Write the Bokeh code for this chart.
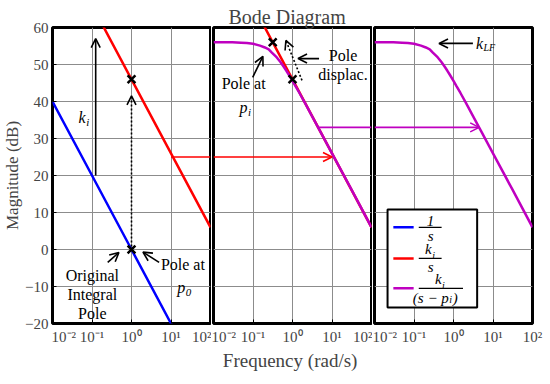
from bokeh.plotting import figure
from bokeh.layouts import row
from bokeh.models import (Range1d, FixedTicker, CustomJSTickFormatter, Arrow, OpenHead,
                          Label, BoxAnnotation)
from bokeh.embed import file_html
from bokeh.resources import INLINE

# ---------------- data ----------------
XTICKS = [0.01, 0.1, 1, 10, 100]
YTICKS = [-20, -10, 0, 10, 20, 30, 40, 50, 60]

W_LINE = [0.01, 0.1, 1, 10, 100]
MAG_INT = [40, 20, 0, -20, -40]          # 1/s
MAG_KI = [86, 66, 46, 26, 6]             # ki/s
W_PI = [0.01, 0.03, 0.05, 0.07, 0.1, 0.15, 0.2, 0.25, 0.3, 0.4, 0.5, 0.6, 0.7, 0.8,
        1, 1.2, 1.5, 2, 3, 5, 10, 30, 100]
MAG_PI = [56.0, 56.0, 55.9, 55.8, 55.6, 55.1, 54.6, 54.1, 53.2, 51.9, 50.6, 49.4, 48.3, 47.3,
          45.6, 44.1, 42.3, 39.9, 36.4, 32.0, 26.0, 16.5, 6.0]   # ki/(s-pi)

POLE1_W = [1, 1]
POLE1_MAG = [0, 46]
POLE2_W = [0.316, 1]
POLE2_MAG = [56, 46]

RED_SHIFT_W, RED_SHIFT_MAG = 10, 25
PUR_SHIFT_W, PUR_SHIFT_MAG = 4.47, 33

FONT = "Liberation Serif"
BLUE, RED, PURPLE = "#0000FF", "#FF0000", "#BF00C0"
H = 384
TOP = 27
BOTTOM = 61
DOTTED = "2 2"

XFMT = """
const sup = {"-2": "\u207B\u00B2", "-1": "\u207B\u00B9", "0": "\u2070", "1": "\u00B9", "2": "\u00B2"};
const e = Math.round(Math.log10(tick));
let s = "10" + sup[String(e)];
if (index == 0 && padl) { s = "\u2002\u2002\u2002" + s; }
return s;
"""
YFMT = """return tick < 0 ? "\u2212" + (-tick) : String(tick);"""


def make_fig(width, left, right, padl, xlabel=None, ylabel=None, title=None):
    p = figure(x_axis_type="log", x_range=Range1d(0.01, 100), y_range=Range1d(-20, 60),
               width=width, height=H, output_backend="svg", toolbar_location=None,
               min_border_left=left, min_border_right=right, min_border_top=TOP,
               min_border_bottom=BOTTOM, background_fill_color="white", border_fill_color="white")
    if title:
        p.title.text = title
        p.title.text_font = FONT
        p.title.text_font_size = "20px"
        p.title.text_font_style = "normal"
        p.title.align = "left"
        p.title.standoff = 0
        p.title.offset = 15
    p.outline_line_color = "black"
    p.outline_line_width = 3
    p.outline_line_alpha = 1
    p.xaxis.ticker = FixedTicker(ticks=XTICKS)
    p.xaxis.formatter = CustomJSTickFormatter(code=XFMT, args=dict(padl=padl))
    p.xaxis.major_label_text_font = FONT
    p.xaxis.major_label_text_font_size = "15px"
    p.xaxis.major_label_standoff = 5
    p.xaxis.axis_line_color = None
    p.xaxis.major_tick_in = 4
    p.xaxis.major_tick_out = 0
    p.xaxis.major_tick_line_color = "black"
    p.xaxis.minor_tick_line_color = None
    if xlabel:
        p.xaxis.axis_label = xlabel
        p.xaxis.axis_label_text_font = FONT
        p.xaxis.axis_label_text_font_size = "19px"
        p.xaxis.axis_label_text_font_style = "normal"
        p.xaxis.axis_label_standoff = 2
    p.xgrid.ticker = FixedTicker(ticks=XTICKS)
    p.ygrid.ticker = FixedTicker(ticks=YTICKS)
    p.grid.grid_line_color = "#8c8c8c"
    p.grid.grid_line_width = 1
    if ylabel:
        p.yaxis.ticker = FixedTicker(ticks=YTICKS)
        p.yaxis.formatter = CustomJSTickFormatter(code=YFMT)
        p.yaxis.major_label_text_font = FONT
        p.yaxis.major_label_text_font_size = "15px"
        p.yaxis.major_label_standoff = 4
        p.yaxis.axis_line_color = None
        p.yaxis.major_tick_in = 4
        p.yaxis.major_tick_out = 0
        p.yaxis.major_tick_line_color = "black"
        p.yaxis.minor_tick_line_color = None
        p.yaxis.axis_label = ylabel
        p.yaxis.axis_label_text_font = FONT
        p.yaxis.axis_label_text_font_size = "17px"
        p.yaxis.axis_label_text_font_style = "normal"
        p.yaxis.axis_label_standoff = 0
    else:
        p.yaxis.visible = False
    return p


def arrow(p, xs, ys, xe, ye, color="black", dash="solid", head=True, lw=1.6):
    p.add_layout(Arrow(x_start=xs, y_start=ys, x_end=xe, y_end=ye, line_color=color,
                       line_width=lw, line_dash=dash,
                       end=OpenHead(size=9, line_color=color, line_width=lw) if head else None))


def text(p, x, y, t, size=16, italic=False, align="center", baseline="middle", dx=0):
    p.add_layout(Label(x=x, y=y, text=t, text_font=FONT, text_font_size=f"{size}px",
                       text_font_style="italic" if italic else "normal",
                       text_align=align, text_baseline=baseline, x_offset=dx, text_color="black"))


def subtext(p, x, y, main, sub, size=16, sub_size=11, baseline="middle", drop=1.2):
    # main text ends at x, subscript starts at x
    text(p, x, y, main, size=size, italic=True, align="right", baseline=baseline)
    text(p, x, y - drop, sub, size=sub_size, italic=True, align="left", baseline=baseline, dx=0.5)


# ---------------- panel 1 ----------------
p1 = make_fig(211, 52, 1, True, ylabel="Magnitude (dB)")
p1.line(W_LINE, MAG_INT, line_color=BLUE, line_width=2.5)
p1.line(W_LINE, MAG_KI, line_color=RED, line_width=2.5)
p1.line([RED_SHIFT_W, 100], [RED_SHIFT_MAG, RED_SHIFT_MAG], line_color=RED, line_width=1.6)
arrow(p1, 0.124, 20, 0.124, 57)
arrow(p1, 1, 0.8, 1, 41.5, dash=DOTTED)
arrow(p1, 0.25, -3.5, 0.48, -0.8)
arrow(p1, 5.0, -3.5, 1.95, -0.7)
p1.scatter(POLE1_W, POLE1_MAG, marker="x", size=11, line_color="black", line_width=2.5)
subtext(p1, 0.069, 35.7, "k", "i")
text(p1, 0.102, -7, "Original")
text(p1, 0.102, -12.2, "Integral")
text(p1, 0.102, -17.3, "Pole")
text(p1, 20, -4, "Pole at")
subtext(p1, 22.9, -10.3, "p", "0")

# ---------------- panel 2 ----------------
p2 = make_fig(161, 2, 1, False, xlabel="Frequency  (rad/s)", title="Bode Diagram")
p2.line(W_LINE, MAG_KI, line_color=RED, line_width=2.5)
p2.line(W_PI, MAG_PI, line_color=PURPLE, line_width=2.5)
arrow(p2, 0.01, RED_SHIFT_MAG, RED_SHIFT_W, RED_SHIFT_MAG, color=RED)
p2.line([PUR_SHIFT_W, 100], [PUR_SHIFT_MAG, PUR_SHIFT_MAG], line_color=PURPLE, line_width=1.6)
arrow(p2, 0.098, 46.5, 0.178, 52.2)
arrow(p2, 1.74, 45.7, 0.68, 56.5, dash=DOTTED)
arrow(p2, 4.7, 51.6, 1.38, 51.6)
p2.scatter(POLE2_W, POLE2_MAG, marker="x", size=11, line_color="black", line_width=2.5)
text(p2, 0.058, 44.9, "Pole at")
subtext(p2, 0.073, 38.4, "p", "i")
text(p2, 19, 52.4, "Pole")
text(p2, 19, 47.3, "displac.")

# ---------------- panel 3 ----------------
p3 = make_fig(178, 2, 18, False)
p3.line(W_PI, MAG_PI, line_color=PURPLE, line_width=2.5)
arrow(p3, 0.01, PUR_SHIFT_MAG, PUR_SHIFT_W, PUR_SHIFT_MAG, color=PURPLE)
arrow(p3, 3.1, 55.7, 0.43, 55.7)
subtext(p3, 5.6, 55.7, "k", "LF", sub_size=10)

# legend (drawn by hand)
p3.add_layout(BoxAnnotation(left=0.0214, right=3.97, bottom=-15.7, top=10.8, fill_color="white",
                            fill_alpha=1, line_color="black", line_width=2, line_alpha=1))
for yv, col in [(6, BLUE), (-2.4, RED), (-10.5, PURPLE)]:
    arrow(p3, 0.030, yv, 0.098, yv, color=col, head=False, lw=2.5)
arrow(p3, 0.132, 6, 0.50, 6, head=False, lw=1.3)
arrow(p3, 0.132, -2.4, 0.50, -2.4, head=False, lw=1.3)
arrow(p3, 0.132, -10.5, 1.74, -10.5, head=False, lw=1.3)
text(p3, 0.263, 6.3, "1", size=15, italic=True, baseline="bottom")
text(p3, 0.263, 5.7, "s", size=15, italic=True, baseline="top")
subtext(p3, 0.28, -2.1, "k", "i", size=15, sub_size=10, baseline="bottom", drop=1.0)
text(p3, 0.263, -2.7, "s", size=15, italic=True, baseline="top")
subtext(p3, 0.50, -10.2, "k", "i", size=15, sub_size=10, baseline="bottom", drop=1.0)
text(p3, 0.76, -10.9, "(s \u2212 p", size=15, italic=True, align="right", baseline="top")
text(p3, 0.76, -11.9, "i", size=10, italic=True, align="left", baseline="top", dx=0.5)
text(p3, 0.76, -10.9, ")", size=15, italic=True, align="left", baseline="top", dx=4)

layout = row(p1, p2, p3)
open("out.html", "w").write(file_html(layout, INLINE))
